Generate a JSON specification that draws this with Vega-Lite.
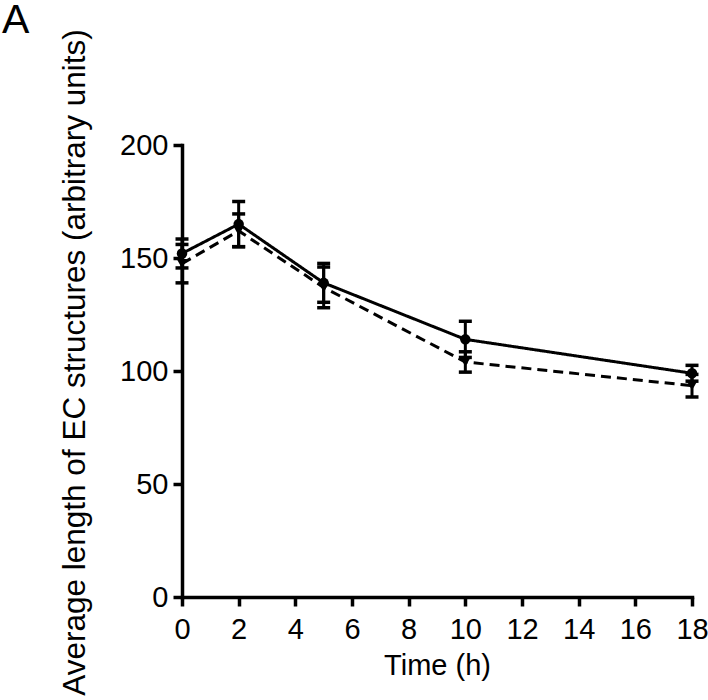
{
  "$schema": "https://vega.github.io/schema/vega-lite/v6.json",
  "width": 510,
  "height": 452,
  "autosize": "none",
  "padding": {"left": 182, "top": 145, "right": 16, "bottom": 103},
  "background": "white",
  "title": {"text": "A", "anchor": "start", "frame": "group", "dx": -180, "offset": 0, "dy": 45, "baseline": "alphabetic", "fontSize": 41, "fontWeight": "normal", "font": "Liberation Sans", "color": "black"},
  "config": {
    "view": {"stroke": null},
    "axis": {"grid": false, "domainColor": "black", "domainWidth": 3.5, "tickColor": "black", "tickWidth": 3.5, "tickSize": 9, "labelFont": "Liberation Sans", "labelFontSize": 29, "labelColor": "black", "titleFont": "Liberation Sans", "titleFontWeight": "normal", "titleColor": "black", "domainCap": "square"}
  },
  "data": {"values": [
    {"series": "solid", "time": 0, "mean": 152, "lo": 145.6, "hi": 158.4},
    {"series": "solid", "time": 2, "mean": 165, "lo": 155, "hi": 175},
    {"series": "solid", "time": 5, "mean": 139, "lo": 130.4, "hi": 147.6},
    {"series": "solid", "time": 10, "mean": 114, "lo": 106, "hi": 122},
    {"series": "solid", "time": 18, "mean": 99, "lo": 95.5, "hi": 102.5},
    {"series": "dashed", "time": 0, "mean": 147.5, "lo": 139, "hi": 156},
    {"series": "dashed", "time": 2, "mean": 162, "lo": 155, "hi": 169.5},
    {"series": "dashed", "time": 5, "mean": 137, "lo": 128, "hi": 146},
    {"series": "dashed", "time": 10, "mean": 104, "lo": 99.5, "hi": 108.5},
    {"series": "dashed", "time": 18, "mean": 93.5, "lo": 88.5, "hi": 98.5}
  ]},
  "encoding": {
    "x": {"field": "time", "type": "quantitative", "scale": {"domain": [0, 18], "nice": false, "zero": false},
      "axis": {"values": [0, 2, 4, 6, 8, 10, 12, 14, 16, 18], "title": "Time (h)", "titleFontSize": 29, "labelPadding": 9, "titlePadding": 7, "labelFlush": false}},
    "y": {"field": "mean", "type": "quantitative", "scale": {"domain": [0, 200], "nice": false},
      "axis": {"values": [0, 50, 100, 150, 200], "title": "Average length of EC structures (arbitrary units)", "titleFontSize": 31.5, "labelPadding": 5, "titlePadding": 28, "titleY": 217}}
  },
  "layer": [
    {
      "mark": {"type": "rule", "color": "black", "strokeWidth": 3},
      "encoding": {"y": {"field": "lo", "type": "quantitative"}, "y2": {"field": "hi"}}
    },
    {
      "mark": {"type": "tick", "orient": "horizontal", "color": "black", "thickness": 3.5, "size": 13, "opacity": 1},
      "encoding": {"y": {"field": "lo", "type": "quantitative"}}
    },
    {
      "mark": {"type": "tick", "orient": "horizontal", "color": "black", "thickness": 3.5, "size": 13, "opacity": 1},
      "encoding": {"y": {"field": "hi", "type": "quantitative"}}
    },
    {
      "mark": {"type": "line", "color": "black", "strokeWidth": 3},
      "encoding": {
        "detail": {"field": "series"},
        "strokeDash": {"field": "series", "type": "nominal", "scale": {"domain": ["solid", "dashed"], "range": [[1, 0], [10, 6]]}, "legend": null}
      }
    },
    {
      "mark": {"type": "point", "filled": true, "color": "black", "opacity": 1},
      "encoding": {
        "shape": {"field": "series", "type": "nominal", "scale": {"domain": ["solid", "dashed"], "range": ["circle", "triangle-down"]}, "legend": null},
        "size": {"value": 110}
      }
    }
  ]
}
